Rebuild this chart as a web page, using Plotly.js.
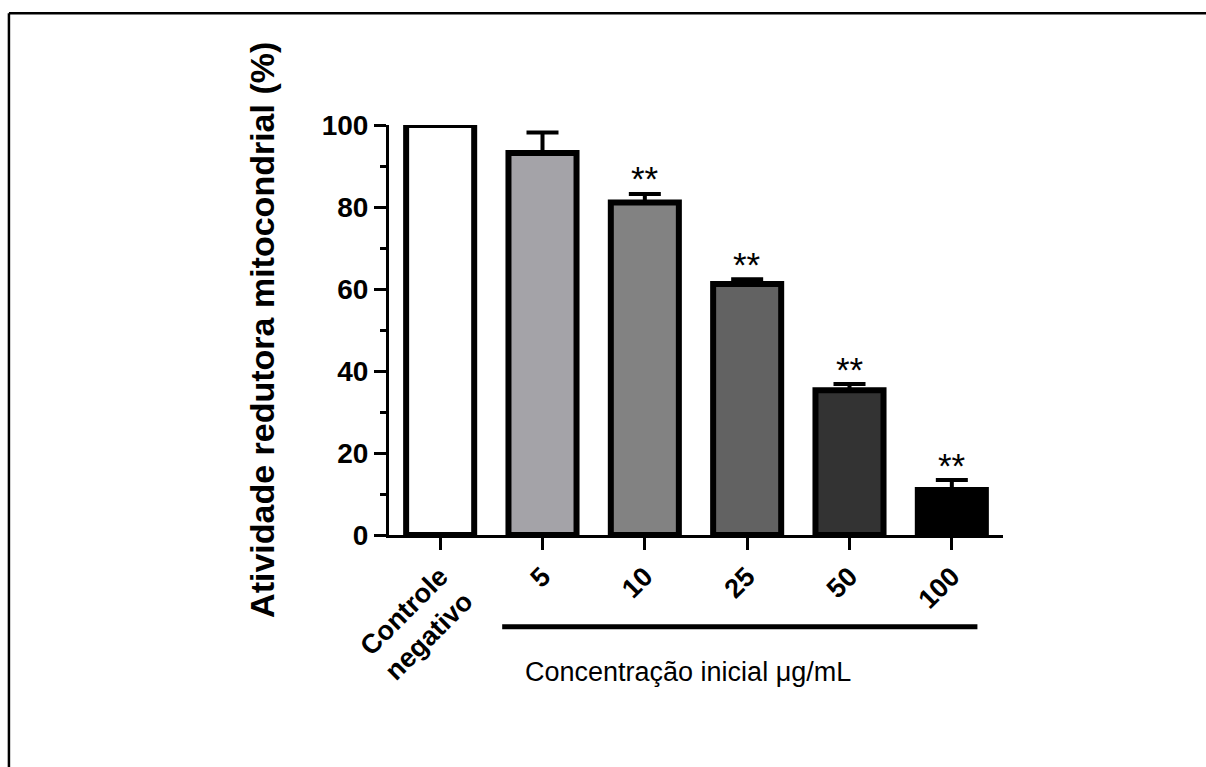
<!DOCTYPE html>
<html>
<head>
<meta charset="utf-8">
<script src="https://cdn.plot.ly/plotly-3.0.1.min.js"></script>
<style>
html,body{margin:0;padding:0;background:#fff;}
#chart{width:1206px;height:767px;}
</style>
</head>
<body>
<div id="chart"></div>
<script>
// ---- data ----
const categories = ["Controle<br>negativo", "5", "10", "25", "50", "100"];
const meanValues = [100, 93.2, 81.1, 61.2, 35.3, 11.0];
const errorUp = [0, 5.0, 2.1, 1.2, 1.5, 2.4];
const barColors = ["#ffffff", "#a4a3a8", "#828282", "#626262", "#333333", "#000000"];
const significance = ["", "", "**", "**", "**", "**"];
const yTickValues = [0, 20, 40, 60, 80, 100];

const FONT = "Arial, 'Liberation Sans', Helvetica, sans-serif";

const trace = {
  type: "bar",
  x: categories,
  y: meanValues,
  width: 0.665,
  cliponaxis: false,
  marker: { color: barColors, line: { color: "#000", width: 6 } },
  error_y: {
    type: "data",
    symmetric: false,
    array: errorUp,
    arrayminus: errorUp.map(() => 0),
    color: "#000",
    thickness: 4,
    width: 16
  },
  hoverinfo: "skip"
};

const annotations = [];
categories.forEach((c, i) => {
  if (significance[i]) {
    annotations.push({
      x: i, y: meanValues[i] + errorUp[i], xref: "x", yref: "y",
      text: significance[i], showarrow: false,
      yanchor: "middle", yshift: 15,
      font: { family: FONT, size: 35, color: "#000" }
    });
  }
});
annotations.push({
  xref: "paper", yref: "paper", x: -0.207, y: 0.5,
  text: "<b>Atividade redutora mitocondrial (%)</b>", textangle: -90,
  showarrow: false, xanchor: "center", yanchor: "middle",
  font: { family: FONT, size: 34, color: "#000" }
});
annotations.push({
  xref: "paper", yref: "paper", x: 0.487, y: -0.334,
  text: "Concentração inicial μg/mL",
  showarrow: false, xanchor: "center", yanchor: "middle",
  font: { family: FONT, size: 27, color: "#000" }
});

const layout = {
  width: 1206, height: 767,
  margin: { l: 389, r: 203, t: 125, b: 232 },
  paper_bgcolor: "#fff", plot_bgcolor: "#fff",
  showlegend: false,
  font: { family: FONT, color: "#000" },
  xaxis: {
    type: "category",
    range: [-0.5, 5.5],
    showline: true, linecolor: "#000", linewidth: 3,
    ticks: "outside", ticklen: 12, tickwidth: 3, tickcolor: "#000",
    tickangle: -45,
    tickfont: { family: FONT, size: 27, color: "#000", weight: "bold" },
    showgrid: false, zeroline: false, fixedrange: true
  },
  yaxis: {
    range: [0, 100],
    tickvals: yTickValues,
    showline: true, linecolor: "#000", linewidth: 3,
    ticks: "outside", ticklen: 12, tickwidth: 3, tickcolor: "#000",
    tickfont: { family: FONT, size: 28, color: "#000", weight: "bold" },
    minor: { dtick: 10, ticks: "outside", ticklen: 6, tickwidth: 3, tickcolor: "#000", showgrid: false },
    showgrid: false, zeroline: false, fixedrange: true
  },
  shapes: [
    { type: "line", xref: "x", yref: "paper", x0: 0.606, x1: 5.25, y0: -0.224, y1: -0.224,
      line: { color: "#000", width: 5 } },
    { type: "line", xref: "paper", yref: "paper", x0: -0.619, x1: 1.4, y0: 1.2725, y1: 1.2725,
      line: { color: "#000", width: 2.5 } },
    { type: "line", xref: "paper", yref: "paper", x0: -0.619, x1: -0.619, y0: 1.2725, y1: -0.6,
      line: { color: "#000", width: 2.5 } }
  ],
  annotations: annotations
};

Plotly.newPlot("chart", [trace], layout, { displayModeBar: false, staticPlot: true });
</script>
</body>
</html>
